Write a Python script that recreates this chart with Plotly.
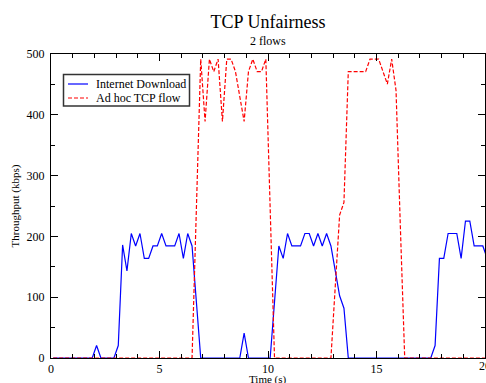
import plotly.graph_objects as go

# time stamps (s)
time = [round(0.1 + 0.2 * k, 1) for k in range(101)]

internet_download = [
    0, 0, 0, 0, 0, 0, 0, 0, 0, 0,            # 0.1 - 1.9
    20.48, 0, 0, 0, 0, 20.48, 186, 143.36, 204.8, 184.32,   # 2.1 - 3.9
    204.8, 163.84, 163.84, 184.32, 184.32, 204.8, 184.32, 184.32, 184.32, 204.8,  # 4.1 - 5.9
    163.84, 204.8, 184.32, 92, 0, 0, 0, 0, 0, 0,  # 6.1 - 7.9
    0, 0, 0, 0, 40.96, 0, 0, 0, 0, 0,         # 8.1 - 9.9
    0, 92, 184.32, 163.84, 204.8, 184.32, 184.32, 184.32, 204.8, 204.8,  # 10.1 - 11.9
    184.32, 204.8, 184.32, 204.8, 184.32, 143.36, 102.4, 81.92, 0, 0,  # 12.1 - 13.9
    0, 0, 0, 0, 0, 0, 0, 0, 0, 0,             # 14.1 - 15.9
    0, 0, 0, 0, 0, 0, 0, 0, 20.48, 163.84,    # 16.1 - 17.9
    163.84, 204.8, 204.8, 204.8, 163.84, 225.28, 225.28, 184.32, 184.32, 184.32,  # 18.1 - 19.9
    163.84,                                   # 20.1
]

adhoc_tcp = [
    0, 0, 0, 0, 0, 0, 0, 0, 0, 0,             # 0.1 - 1.9
    0, 0, 0, 0, 0, 0, 0, 0, 0, 0,             # 2.1 - 3.9
    0, 0, 0, 0, 0, 0, 0, 0, 0, 0,             # 4.1 - 5.9
    0, 0, 0, 245.76, 491.52, 389.12, 491.52, 471.04, 491.52, 389.12,  # 6.1 - 7.9
    491.52, 491.52, 471.04, 430, 389.12, 471.04, 491.52, 471.04, 471.04, 491.52,  # 8.1 - 9.9
    245.76, 0, 0, 0, 0, 0, 0, 0, 0, 0,        # 10.1 - 11.9
    0, 0, 0, 0, 0, 118, 235, 256, 471.04, 471.04,  # 12.1 - 13.9
    471.04, 471.04, 471.04, 491.52, 491.52, 491.52, 471.04, 450.56, 491.52, 440,  # 14.1 - 15.9
    215, 0, 0, 0, 0, 0, 0, 0, 0, 0,           # 16.1 - 17.9
    0, 0, 0, 0, 0, 0, 0, 0, 0, 0,             # 18.1 - 19.9
    0,                                        # 20.1
]

series_names = ["Internet Download", "Ad hoc TCP flow"]
series_colors = ["#0000ff", "#ff0000"]
series_dash = ["solid", "4px,2px"]

title_text = "TCP Unfairness"
subtitle_text = "2 flows"
x_title = "Time (s)"
y_title = "Throughput (kbps)"
x_last_tick = 20

serif = "Liberation Serif, Times New Roman, serif"

W, H = 486, 383
ML, MR, MT, MB = 51, 1, 54, 25
PW, PH = W - ML - MR, H - MT - MB


def px_to_paper_x(px):
    return (px - ML) / PW


def py_to_paper_y(py):
    return (H - MB - py) / PH


fig = go.Figure()
for name, ys, col, dash in zip(series_names, [internet_download, adhoc_tcp], series_colors, series_dash):
    fig.add_trace(go.Scatter(x=time, y=ys, mode="lines", name=name,
                             line=dict(color=col, width=1.2, dash=dash),
                             showlegend=False))

axis_common = dict(
    showline=True, linecolor="black", linewidth=1, mirror="ticks",
    ticks="inside", ticklen=7, tickcolor="black", tickwidth=1,
    showgrid=False, zeroline=False,
    tickfont=dict(family=serif, size=12, color="black"),
)

fig.update_xaxes(range=[0, 20], tick0=0, dtick=5,
                 minor=dict(ticks="inside", ticklen=4, dtick=1, tickcolor="black", showgrid=False),
                 ticklabelstandoff=0,
                 **axis_common)
fig.update_yaxes(range=[0, 500], tick0=0, dtick=100,
                 minor=dict(ticks="inside", ticklen=4, dtick=50, tickcolor="black", showgrid=False),
                 title=dict(text=y_title, font=dict(family=serif, size=11, color="black"), standoff=4),
                 ticklabelstandoff=3,
                 **axis_common)

annotations = [
    dict(text=subtitle_text, x=0.5, y=py_to_paper_y(41), xref="paper", yref="paper",
         xanchor="center", yanchor="middle", showarrow=False,
         font=dict(family=serif, size=12, color="black")),
    dict(text=x_title, x=0.5, y=py_to_paper_y(379), xref="paper", yref="paper",
         xanchor="center", yanchor="middle", showarrow=False,
         font=dict(family=serif, size=11, color="black")),
    # last x tick label, partly cut by the page edge as in the reference
    dict(text=str(x_last_tick), x=x_last_tick, y=py_to_paper_y(366), xref="x", yref="paper",
         xanchor="center", yanchor="middle", showarrow=False,
         font=dict(family=serif, size=12, color="black")),
]

# manual legend (box, line samples, labels)
shapes = [dict(type="rect", xref="paper", yref="paper",
               x0=px_to_paper_x(63.5), x1=px_to_paper_x(189.5),
               y0=py_to_paper_y(106), y1=py_to_paper_y(74.5),
               line=dict(color="#333333", width=1.5), fillcolor="white", layer="above")]
legend_rows = [84, 98]
for name, col, dash, py in zip(series_names, series_colors, series_dash, legend_rows):
    shapes.append(dict(type="line", xref="paper", yref="paper",
                       x0=px_to_paper_x(68), x1=px_to_paper_x(88),
                       y0=py_to_paper_y(py), y1=py_to_paper_y(py),
                       line=dict(color=col, width=1.2, dash=dash), layer="above"))
    annotations.append(dict(text=name, x=px_to_paper_x(94), y=py_to_paper_y(py),
                            xref="paper", yref="paper", xanchor="left", yanchor="middle",
                            showarrow=False, font=dict(family=serif, size=12, color="black")))

fig.update_layout(
    width=W, height=H,
    margin=dict(l=ML, r=MR, t=MT, b=MB),
    paper_bgcolor="white", plot_bgcolor="white",
    title=dict(text=title_text, x=0.5, xref="paper", y=1 - 21.5 / H, yref="container",
               yanchor="middle", xanchor="center",
               font=dict(family=serif, size=18, color="black")),
    annotations=annotations,
    shapes=shapes,
    showlegend=False,
)

fig.write_html("out.html")
